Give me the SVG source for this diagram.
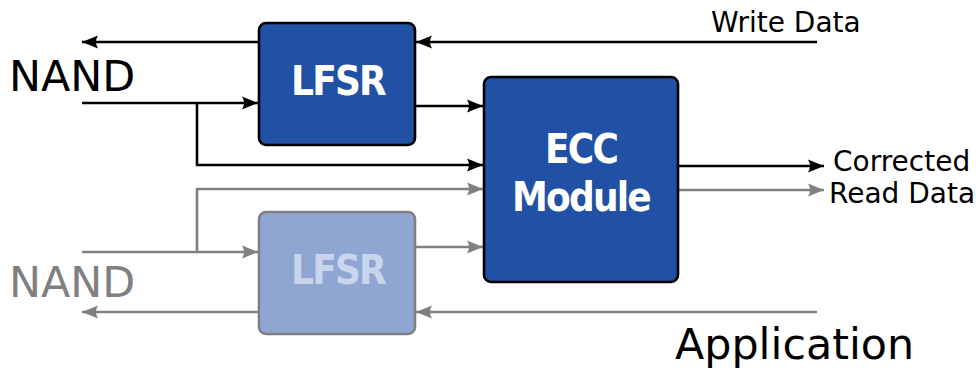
<svg xmlns="http://www.w3.org/2000/svg" width="976" height="370" viewBox="0 0 976 370">
<style>
.lbl{font-family:"DejaVu Sans",sans-serif;fill:#000}
.big{font-size:42.8px}
.sm{font-size:28px}
.box{fill:#2151a5;stroke:#000;stroke-width:2.6}
.boxg{fill:#8fa6d2;stroke:#808080;stroke-width:2.6}
.bt{font-family:"DejaVu Sans Condensed","DejaVu Sans",sans-serif;font-weight:bold;font-size:40px;fill:#fff;text-anchor:middle;letter-spacing:-1.8px}
.k{fill:none;stroke:#000;stroke-width:2.6}
.g{fill:none;stroke:#808080;stroke-width:2.6}
</style>
<defs>
<marker id="ak" markerUnits="userSpaceOnUse" markerWidth="20" markerHeight="16" viewBox="-17 -8 20 16" refX="0" refY="0" orient="auto">
<path d="M0,0 L-16,-6.5 Q-12,0 -16,6.5 Z" fill="#000"/>
</marker>
<marker id="ag" markerUnits="userSpaceOnUse" markerWidth="20" markerHeight="16" viewBox="-17 -8 20 16" refX="0" refY="0" orient="auto">
<path d="M0,0 L-16,-6.5 Q-12,0 -16,6.5 Z" fill="#808080"/>
</marker>
</defs>
<g id="connectors">
<path class="k" d="M817,42 H416" marker-end="url(#ak)"/>
<path class="k" d="M259,42 H82" marker-end="url(#ak)"/>
<path class="k" d="M82,103 H258" marker-end="url(#ak)"/>
<path class="k" d="M197,103 V165 H483" marker-end="url(#ak)"/>
<path class="k" d="M415,106 H483" marker-end="url(#ak)"/>
<path class="k" d="M678,166 H824" marker-end="url(#ak)"/>
<path class="g" d="M678,190 H824" marker-end="url(#ag)"/>
<path class="g" d="M197,252 V189 H483" marker-end="url(#ag)"/>
<path class="g" d="M82,252 H258" marker-end="url(#ag)"/>
<path class="g" d="M415,247 H483" marker-end="url(#ag)"/>
<path class="g" d="M817,312 H416" marker-end="url(#ag)"/>
<path class="g" d="M259,312 H82" marker-end="url(#ag)"/>
</g>
<g id="lfsr-top">
<rect class="box" x="259" y="23" width="156" height="122" rx="7"/>
<text class="bt" x="338" y="95">LFSR</text>
</g>
<g id="ecc">
<rect class="box" x="484" y="77" width="194" height="205" rx="7"/>
<text class="bt" x="581" y="163">ECC</text>
<text class="bt" x="581" y="211">Module</text>
</g>
<g id="lfsr-bottom">
<rect class="boxg" x="259" y="212" width="156" height="122" rx="7"/>
<text class="bt" x="338" y="284" style="fill:#c9d5ec">LFSR</text>
</g>
<g id="labels">
<text class="lbl big" x="9" y="91">NAND</text>
<text class="lbl big" x="9" y="297" style="fill:#808080">NAND</text>
<text class="lbl sm" x="711" y="32">Write Data</text>
<text class="lbl sm" x="833" y="171">Corrected</text>
<text class="lbl sm" x="829" y="203">Read Data</text>
<text class="lbl big" x="675" y="359">Application</text>
</g>
</svg>
